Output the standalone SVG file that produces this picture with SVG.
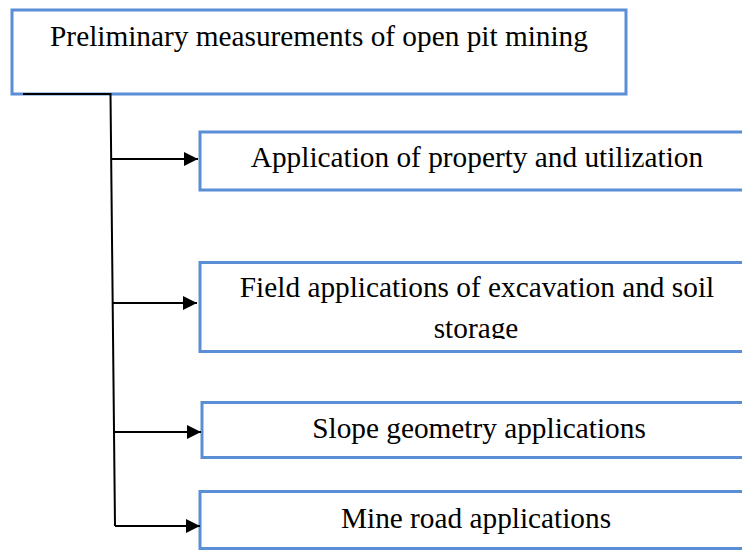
<svg xmlns="http://www.w3.org/2000/svg" width="742" height="550" viewBox="0 0 742 550">
<style>
.box{fill:#fff;stroke:#5A8ED5;stroke-width:3}
.t{font-family:"Liberation Serif","Times New Roman",serif;font-size:29.3px;fill:#000;text-anchor:middle}
.c{fill:none;stroke:#000;stroke-width:2}
</style>
<defs>
<marker id="ah" markerWidth="14" markerHeight="14" refX="14" refY="7" orient="auto" markerUnits="userSpaceOnUse">
<path d="M0,0 L14,7 L0,14 Z" fill="#000"/>
</marker>
<clipPath id="clip2"><rect x="200" y="262" width="560" height="77"/></clipPath>
</defs>
<rect width="742" height="550" fill="#fff"/>
<g id="root">
<rect class="box" x="12" y="10" width="614" height="84"/>
<text class="t" x="319" y="46">Preliminary measurements of open pit mining</text>
</g>
<g id="n1">
<rect class="box" x="200" y="132" width="560" height="58"/>
<text class="t" x="477" y="167">Application of property and utilization</text>
</g>
<g id="n2">
<rect class="box" x="200" y="262.5" width="560" height="89"/>
<g clip-path="url(#clip2)">
<text class="t" x="477" y="297">Field applications of excavation and soil</text>
<text class="t" x="476" y="338">storage</text>
</g>
</g>
<g id="n3">
<rect class="box" x="202" y="402.5" width="560" height="55"/>
<text class="t" x="479" y="438">Slope geometry applications</text>
</g>
<g id="n4">
<rect class="box" x="200" y="491.5" width="560" height="57"/>
<text class="t" x="476" y="528">Mine road applications</text>
</g>
<g id="connectors">
<path class="c" d="M23,94 L110.5,94 L115,526"/>
<line class="c" x1="111" y1="159" x2="198" y2="159" marker-end="url(#ah)"/>
<line class="c" x1="112.5" y1="303" x2="197" y2="303" marker-end="url(#ah)"/>
<line class="c" x1="114" y1="432" x2="201" y2="432" marker-end="url(#ah)"/>
<line class="c" x1="115" y1="526" x2="200" y2="526" marker-end="url(#ah)"/>
</g>
</svg>
